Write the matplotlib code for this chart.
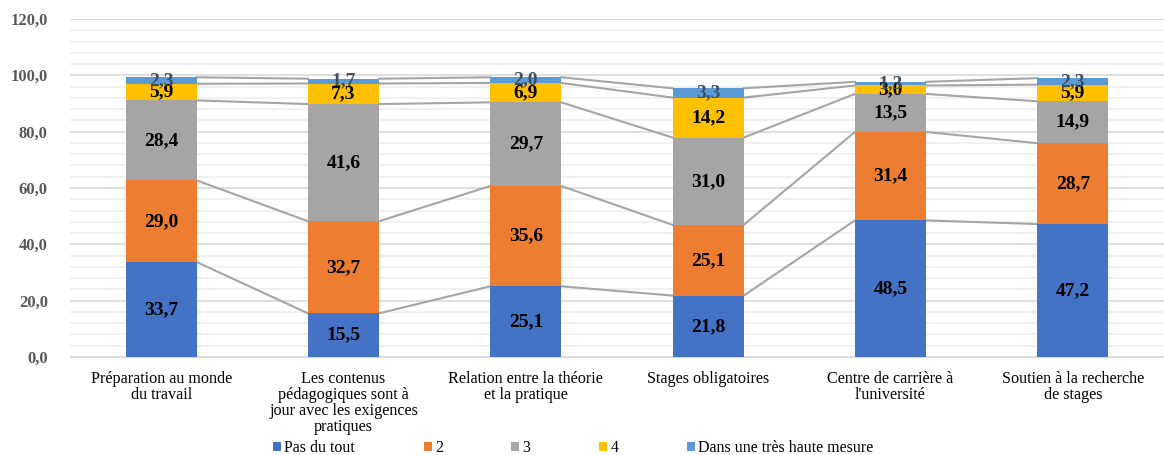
import numpy as np
import matplotlib.pyplot as plt
from matplotlib.ticker import MultipleLocator, FuncFormatter

plt.rcParams['font.family'] = ['Liberation Serif', 'DejaVu Serif']

categories = ["Préparation au monde\ndu travail",
              "Les contenus\npédagogiques sont à\njour avec les exigences\npratiques",
              "Relation entre la théorie\net la pratique",
              "Stages obligatoires",
              "Centre de carrière à\nl'université",
              "Soutien à la recherche\nde stages"]
series_names = ["Pas du tout", "2", "3", "4", "Dans une très haute mesure"]
pas_du_tout = [33.7, 15.5, 25.1, 21.8, 48.5, 47.2]
niv2 = [29.0, 32.7, 35.6, 25.1, 31.4, 28.7]
niv3 = [28.4, 41.6, 29.7, 31.0, 13.5, 14.9]
niv4 = [5.9, 7.3, 6.9, 14.2, 3.0, 5.9]
tres_haute = [2.3, 1.7, 2.0, 3.3, 1.3, 2.3]

colors = ['#4472c4', '#ed7d31', '#a5a5a5', '#ffc000', '#5b9bd5']
label_colors = ['black', 'black', 'black', 'black', '#3f4f60']

fig = plt.figure(figsize=(11.64, 4.55), dpi=100)
ax = fig.add_axes([70/1164, 98/455, 1094/1164, 338/455])

x = np.arange(len(categories))
w = 0.39
bottom = np.zeros(len(categories))
for vals, name, col, lc in zip([pas_du_tout, niv2, niv3, niv4, tres_haute],
                               series_names, colors, label_colors):
    vals = np.array(vals)
    ax.bar(x, vals, w, bottom=bottom, color=col, label=name, zorder=3)
    top = bottom + vals
    # series lines between bars
    for i in range(len(x) - 1):
        ax.plot([x[i] + w/2, x[i+1] - w/2], [top[i], top[i+1]],
                color='#a5a5a5', lw=1.5, zorder=2)
    for i in range(len(x)):
        ax.text(x[i], bottom[i] + vals[i]/2, f"{vals[i]:.1f}".replace('.', ','),
                ha='center', va='center', fontsize=14, fontweight='bold',
                color=lc, zorder=4)
    bottom = top

ax.set_xlim(-0.5, len(categories) - 0.5)
ax.set_ylim(0, 120)
ax.yaxis.set_major_locator(MultipleLocator(20))
ax.yaxis.set_minor_locator(MultipleLocator(4))
ax.yaxis.set_major_formatter(FuncFormatter(lambda v, p: f"{v:.1f}".replace('.', ',')))
ax.grid(axis='y', which='major', color='#d9d9d9', lw=1.2, zorder=0)
ax.grid(axis='y', which='minor', color='#efefef', lw=1.2, zorder=0)
for s in ax.spines.values():
    s.set_visible(False)
ax.spines['bottom'].set_visible(True)
ax.spines['bottom'].set_color('#d9d9d9')
ax.tick_params(axis='both', which='both', length=0)
ax.tick_params(axis='y', labelsize=12, labelcolor='#595959', pad=16)
for t in ax.get_yticklabels():
    t.set_fontweight('bold')
ax.set_xticks(x)
ax.set_xticklabels(categories, fontsize=11.6, linespacing=1.0, va='top')
ax.tick_params(axis='x', pad=10)

ax.legend(loc='lower center', bbox_to_anchor=(0.46, -0.335), ncol=5, frameon=False,
          fontsize=11.5, handlelength=0.5, handleheight=0.5, handletextpad=0.2,
          columnspacing=4.3)

fig.savefig('out.png', dpi=100)
